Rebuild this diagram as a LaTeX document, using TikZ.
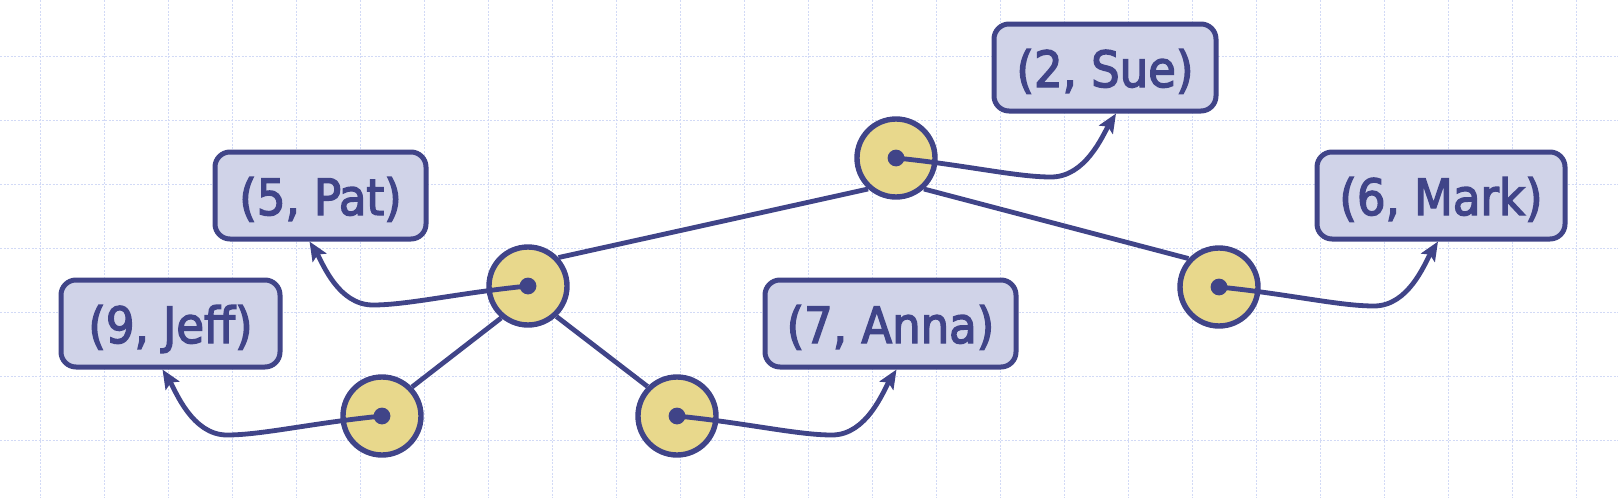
\documentclass[tikz,border=0pt]{standalone}
\usepackage{fontspec}
\newfontfamily\lblfont{DejaVu Sans Condensed}
\usetikzlibrary{arrows.meta,calc}
\definecolor{ink}{HTML}{404488}
\definecolor{boxfill}{HTML}{D0D3E8}
\definecolor{nodefill}{HTML}{E8D88C}
\definecolor{gridc}{HTML}{D2DAF6}
\newcommand{\heavytext}[1]{\special{pdf:code 2 Tr 0.7 w}#1\special{pdf:code 0 Tr}}
\tikzset{
  gridline/.style={gridc, line width=0.5pt, dash pattern=on 1pt off 0.75pt},
  treenode/.style={circle, draw=ink, fill=nodefill, line width=2.7pt, minimum size=39pt, inner sep=0pt},
  entry/.style={draw=ink, fill=boxfill, line width=2.5pt, rounded corners=7.5pt, minimum height=43.5pt,
    inner sep=0pt, text=ink, font=\lblfont\fontsize{25pt}{29pt}\selectfont, text height=19.5pt, text depth=0pt},
  edge/.style={ink, line width=2.4pt},
  pointer/.style={ink, line width=2.4pt, -{Stealth[length=9.5pt,width=8pt,inset=1.8pt]}},
  dot/.style={fill=ink}
}
\begin{document}
\begin{tikzpicture}[x=0.5pt, y=-0.5pt]
\useasboundingbox (0,0) rectangle (1618,498);
\foreach \gx in {40,104,...,1576} \draw[gridline] (\gx,0) -- (\gx,498);
\foreach \gy in {56,120,...,440} \draw[gridline] (0,\gy) -- (1618,\gy);

% entries
\node[entry, minimum width=109.5pt] (jeff) at (170.5,323.5) {\heavytext{(9, Jeff)}};
\node[entry, minimum width=105.5pt] (pat)  at (320.5,195.5) {\heavytext{(5, Pat)}};
\node[entry, minimum width=111pt]   (sue)  at (1105,67.5)   {\heavytext{(2, Sue)}};
\node[entry, minimum width=125.5pt] (anna) at (890.5,323.5) {\heavytext{(7, Anna)}};
\node[entry, minimum width=124pt]   (mark) at (1441,195.5)  {\heavytext{(6, Mark)}};

% tree nodes
\node[treenode] (root) at (896,158) {};
\node[treenode] (nl)   at (528,286) {};
\node[treenode] (nr)   at (1219,287) {};
\node[treenode] (nll)  at (382,416) {};
\node[treenode] (nlr)  at (677,416) {};

\draw[edge] (root.-132) -- (nl.43);
\draw[edge] (root.-48) -- (nr.137);
\draw[edge] (nl.-130) -- (nll.44);
\draw[edge] (nl.-47) -- (nlr.135);

% pointers to the left
\foreach \c/\b/\dx in {nl/pat/-11, nll/jeff/-8} {
  \draw[pointer] (\c.center) .. controls +(-70,7) and +(35,0) .. ($(\c.center)+(-155,19)$)
     .. controls +(-35,0) and +(13,21) .. ($(\b.south)+(\dx,0)$);
}
% pointers to the right
\foreach \c/\b/\dx in {root/sue/11, nlr/anna/6, nr/mark/-3} {
  \draw[pointer] (\c.center) .. controls +(70,7) and +(-35,0) .. ($(\c.center)+(155,19)$)
     .. controls +(35,0) and +(-13,21) .. ($(\b.south)+(\dx,0)$);
}

\foreach \c in {root,nl,nr,nll,nlr} \fill[dot] (\c.center) circle[radius=4.2pt];
\end{tikzpicture}
\end{document}
